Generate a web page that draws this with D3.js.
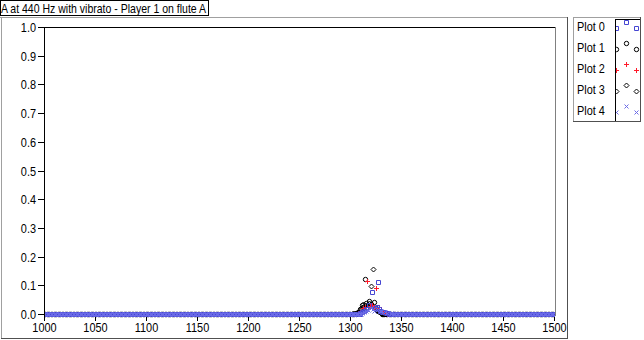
<!DOCTYPE html>
<html>
<head>
<meta charset="utf-8">
<script src="https://cdn.jsdelivr.net/npm/d3@7"></script>
<style>
  body { margin: 0; background: #fff; }
  svg { display: block; font-family: "Liberation Sans", Arial, sans-serif; font-size: 13px; }
</style>
</head>
<body>
<svg id="chart" width="644" height="340"></svg>
<script>
const title = "A at 440 Hz with vibrato - Player 1 on flute A";
const plotNames = ["Plot 0", "Plot 1", "Plot 2", "Plot 3", "Plot 4"];
const xTicks = [1000, 1050, 1100, 1150, 1200, 1250, 1300, 1350, 1400, 1450, 1500];
const yTicks = [0.0, 0.1, 0.2, 0.3, 0.4, 0.5, 0.6, 0.7, 0.8, 0.9, 1.0];

// spectrum bins (Hz): everything outside the peak reads as 0
const binStart = 1000, binEnd = 1500, binWidth = 1.346;

// peak around the 3rd harmonic, [Hz, amplitude]
const plot0Peak = [[1310, 0.004], [1312, 0.006], [1314, 0.01], [1316, 0.018], [1319, 0.03],
                   [1322, 0.076], [1324.5, 0.02], [1326, 0.025], [1327, 0.111], [1328, 0.016],
                   [1329.5, 0.012], [1331, 0.008], [1333, 0.006], [1335, 0.004], [1337, 0.003]];
const plot1Peak = [[1306, 0.004], [1308, 0.008], [1310, 0.018], [1311.5, 0.03], [1313, 0.024],
                   [1314.5, 0.121], [1316, 0.037], [1317.5, 0.03], [1319, 0.046], [1321, 0.035],
                   [1323.5, 0.042], [1325, 0.02], [1326.5, 0.015], [1328, 0.01], [1330, 0.006]];
const plot2Peak = [[1308, 0.004], [1310, 0.006], [1313, 0.02], [1315, 0.026], [1317, 0.116],
                   [1320, 0.028], [1322, 0.031], [1323.5, 0.022], [1325.2, 0.089], [1327, 0.018],
                   [1328.7, 0.023], [1330, 0.012], [1332, 0.008], [1334, 0.005], [1336, 0.003]];
const plot3Peak = [[1303, 0.003], [1305, 0.004], [1307.5, 0.008], [1309.8, 0.014], [1311, 0.022],
                   [1312.5, 0.035], [1315, 0.03], [1317, 0.025], [1318.5, 0.04], [1320.3, 0.098],
                   [1322.8, 0.157], [1324.5, 0.02], [1326, 0.012], [1328, 0.008], [1330, 0.005]];
const plot4Peak = [[1312, 0.004], [1314, 0.008], [1316, 0.012], [1318, 0.015], [1321, 0.02],
                   [1322.5, 0.016], [1324, 0.012], [1326, 0.014], [1327.5, 0.018], [1329, 0.012],
                   [1330.5, 0.01], [1332.6, 0.008], [1334, 0.006], [1336, 0.004], [1340, 0.002]];

const peaks = [plot0Peak, plot1Peak, plot2Peak, plot3Peak, plot4Peak];
const colors = ["#4646d2", "#000000", "#ff1a2a", "#000000", "#6a6ae6"];
const shapes = ["square", "circle", "plus", "diamond", "cross"];
// order the plots are painted in (black and red end up underneath)
const drawOrder = [1, 3, 2, 0, 4];

const svg = d3.select("#chart");

const x = d3.scaleLinear().domain([1000, 1500]).range([44, 554]);
const y = d3.scaleLinear().domain([0, 1]).range([314, 27]);

const marker = (shape, cx, cy) => {
    cx = Math.round(cx) + 0.5;
    cy = Math.round(cy) + 0.5;
    switch (shape) {
        case "square": return `M${cx - 2},${cy - 2}h4v4h-4Z`;
        case "circle": return `M${cx - 2.2},${cy}a2.2,2.2 0 1,0 4.4,0a2.2,2.2 0 1,0 -4.4,0`;
        case "plus": return `M${cx - 2.5},${cy}h5M${cx},${cy - 2.5}v5`;
        case "diamond": return `M${cx},${cy - 2.5}l2.5,2.5l-2.5,2.5l-2.5,-2.5Z`;
        case "cross": return `M${cx - 2},${cy - 2}l4,4M${cx + 2},${cy - 2}l-4,4`;
    }
};

const line = (x1, y1, x2, y2, color) => svg.append("line")
    .attr("x1", x1).attr("y1", y1).attr("x2", x2).attr("y2", y2)
    .attr("stroke", color).attr("shape-rendering", "crispEdges");

// squeeze text to look like the narrow dialog font of the original
const narrow = sel => sel.each(function () {
    const len = this.getComputedTextLength();
    d3.select(this).attr("textLength", len * 0.84).attr("lengthAdjust", "spacingAndGlyphs");
});

// outer frame
line(0, 17.5, 567, 17.5, "#a0a0a0");
line(1.5, 17, 1.5, 339, "#a0a0a0");
line(567.5, 17, 567.5, 339, "#505050");
line(1, 338.5, 568, 338.5, "#505050");

// title box
svg.append("rect")
    .attr("x", 0.5).attr("y", 0.5).attr("width", 208).attr("height", 15)
    .attr("fill", "#fff").attr("stroke", "#000").attr("shape-rendering", "crispEdges");
svg.append("text")
    .attr("x", 1).attr("y", 12.5)
    .attr("textLength", 205).attr("lengthAdjust", "spacingAndGlyphs")
    .text(title);

// plot area frame
line(44, 27.5, 556, 27.5, "#000");
line(44.5, 27, 44.5, 316, "#000");
line(555.5, 27, 555.5, 316, "#808080");

// y axis
const yAxis = svg.append("g");
yTicks.forEach(t => {
    const py = Math.round(y(t)) + 0.5;
    yAxis.append("line").attr("x1", 38).attr("x2", 44).attr("y1", py).attr("y2", py)
        .attr("stroke", "#000").attr("shape-rendering", "crispEdges");
    yAxis.append("text").attr("x", 36).attr("y", py + 4.5)
        .attr("text-anchor", "end").text(d3.format(".1f")(t))
        .call(narrow);
});

// x axis
const xAxis = svg.append("g");
xTicks.forEach(t => {
    const px = Math.round(x(t)) + 0.5;
    xAxis.append("line").attr("x1", px).attr("x2", px).attr("y1", 316).attr("y2", 321)
        .attr("stroke", "#000").attr("shape-rendering", "crispEdges");
    xAxis.append("text").attr("x", px).attr("y", 332)
        .attr("text-anchor", "middle").text(t)
        .call(narrow);
});

// plots
svg.append("clipPath").attr("id", "plotClip")
    .append("rect").attr("x", 45).attr("y", 28).attr("width", 510).attr("height", 290);

const bins = d3.range(binStart, binEnd + binWidth / 2, binWidth);
const plotG = svg.append("g").attr("clip-path", "url(#plotClip)");

drawOrder.forEach(i => {
    const peak = peaks[i];
    const lo = d3.min(peak, d => d[0]), hi = d3.max(peak, d => d[0]);
    const floor = bins.filter(f => f < lo || f > hi).map(f => [f, 0]);
    const pts = floor.concat(peak);
    plotG.append("g")
        .selectAll("path")
        .data(pts)
        .join("path")
        .attr("d", d => marker(shapes[i], x(d[0]), y(d[1])))
        .attr("fill", "none")
        .attr("stroke", colors[i])
        .attr("stroke-width", 1);
});

// legend
line(573, 17.5, 641, 17.5, "#a0a0a0");
line(573.5, 17, 573.5, 122, "#a0a0a0");
line(640.5, 17, 640.5, 122, "#505050");
line(573, 121.5, 641, 121.5, "#505050");
line(615.5, 19, 615.5, 121, "#000");
line(615, 19.5, 640, 19.5, "#000");

svg.append("clipPath").attr("id", "swatchClip")
    .append("rect").attr("x", 616).attr("y", 20).attr("width", 24).attr("height", 101);

const rowY = [26, 47, 68, 89, 110];
const legend = svg.append("g");
plotNames.forEach((name, i) => {
    legend.append("text").attr("x", 577).attr("y", rowY[i] + 4.5).text(name).call(narrow);
    const sw = legend.append("g").attr("clip-path", "url(#swatchClip)");
    [[616, rowY[i] + 2], [626, rowY[i] - 4], [636, rowY[i] + 2]].forEach(p => {
        sw.append("path").attr("d", marker(shapes[i], p[0], p[1]))
            .attr("fill", "none").attr("stroke", colors[i]);
    });
});
</script>
</body>
</html>
